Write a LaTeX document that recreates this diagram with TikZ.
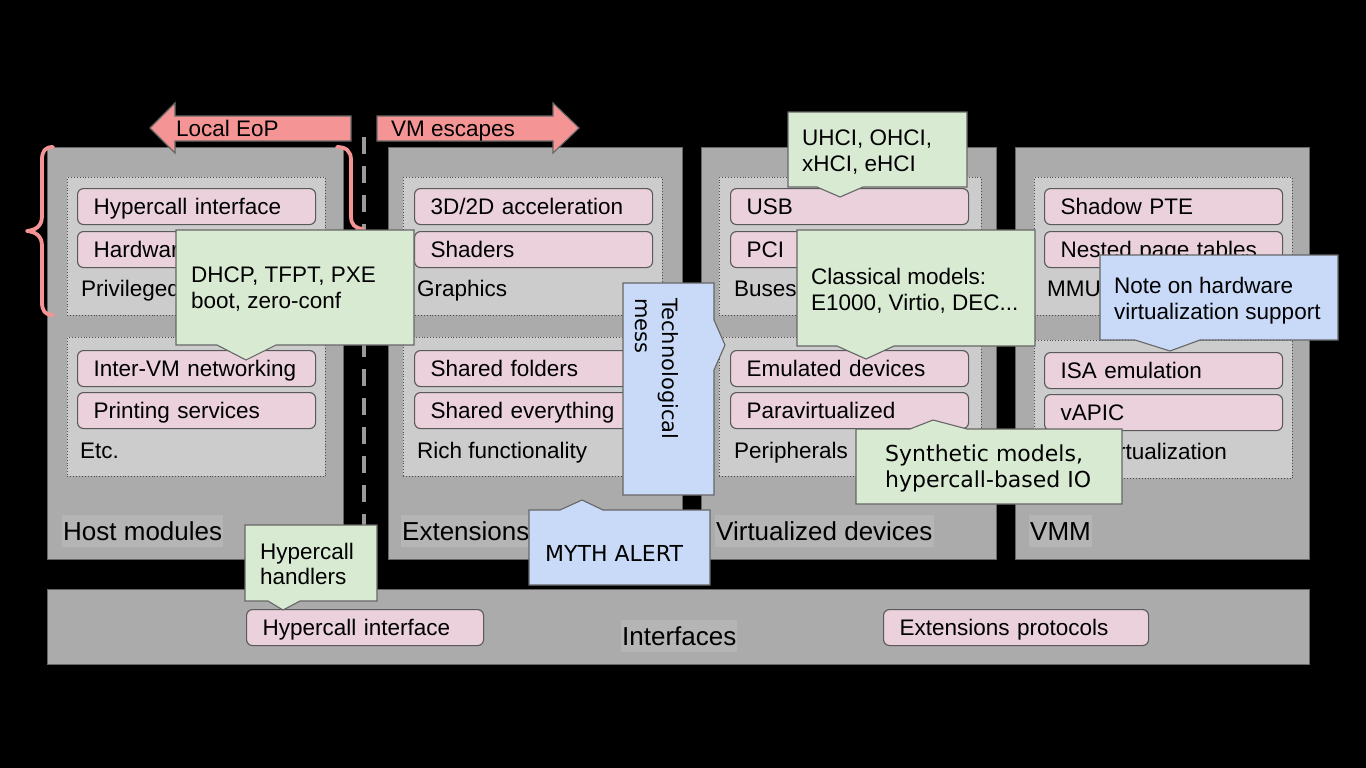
\documentclass[tikz,border=0pt]{standalone}
\usepackage{fontspec}
\setmainfont{Liberation Sans}
\newfontfamily\dvs{DejaVu Sans}
\definecolor{boxgray}{HTML}{ABABAB}
\definecolor{panelgray}{HTML}{CCCCCC}
\definecolor{labelgray}{HTML}{B5B5B5}
\definecolor{edgegray}{HTML}{666666}
\definecolor{pinkc}{HTML}{EAD1DC}
\definecolor{greenc}{HTML}{D9EAD3}
\definecolor{bluec}{HTML}{C9DAF8}
\definecolor{salmon}{HTML}{F59494}
\definecolor{dashgray}{HTML}{9A9A9A}
\begin{document}
\begin{tikzpicture}[x=1pt,y=-1pt,
  outerbox/.style={draw=edgegray, fill=boxgray, line width=1.2pt, inner sep=0pt, anchor=north west},
  panelbox/.style={draw=black!70, fill=panelgray, dotted, line width=0.9pt, inner sep=0pt, anchor=north west},
  item/.style={draw=black!65, fill=pinkc, rounded corners=6pt, line width=1.1pt, inner xsep=16pt, inner ysep=0pt,
    text height=19pt, text depth=3pt, minimum height=36pt, anchor=north west, align=left,
    text width=206pt, font=\fontsize{22.5}{27}\selectfont},
  plabel/.style={inner sep=0pt, anchor=base west, font=\fontsize{22.5}{27}\selectfont},
  biglabel/.style={fill=labelgray, inner xsep=1pt, inner ysep=1pt, text height=24pt, text depth=6pt,
    anchor=base west, font=\fontsize{26}{30}\selectfont},
  ctext/.style={inner sep=0pt, anchor=north west, align=left, font=\fontsize{22.5}{26}\selectfont},
  callg/.style={draw=edgegray, fill=greenc, line width=1.1pt, line join=miter},
  callb/.style={draw=edgegray, fill=bluec, line width=1.1pt, line join=miter},
  arrowshape/.style={draw=edgegray, fill=salmon, line width=1.1pt},
  bracestyle/.style={draw=salmon, line width=3.8pt, line cap=round, line join=round}
]
\fill[black] (0,0) rectangle (1366,768);
\useasboundingbox (0,0) rectangle (1366,768);

% outer columns
\node[outerbox, minimum width=296pt, minimum height=412pt] (host) at (47,147) {};
\node[outerbox, minimum width=294pt, minimum height=412pt] (ext) at (388,147) {};
\node[outerbox, minimum width=295pt, minimum height=412pt] (virt) at (701,147) {};
\node[outerbox, minimum width=294pt, minimum height=412pt] (vmm) at (1015,147) {};
\node[outerbox, minimum width=1262pt, minimum height=75pt] (ifc) at (47,589) {};

% inner panels
\node[panelbox, minimum width=258pt, minimum height=138pt] (hp1) at (67,177) {};
\node[panelbox, minimum width=258pt, minimum height=139pt] (hp2) at (67,337) {};
\node[panelbox, minimum width=259pt, minimum height=138pt] (ep1) at (403,177) {};
\node[panelbox, minimum width=259pt, minimum height=139pt] (ep2) at (403,337) {};
\node[panelbox, minimum width=262pt, minimum height=138pt] (vp1) at (719,177) {};
\node[panelbox, minimum width=262pt, minimum height=139pt] (vp2) at (719,337) {};
\node[panelbox, minimum width=258pt, minimum height=138pt] (mp1) at (1034,177) {};
\node[panelbox, minimum width=258pt, minimum height=138pt] (mp2) at (1034,340) {};

% items
\node[item] (h1) at (77,188) {Hypercall interface};
\node[item] (h2) at (77,231) {Hardware};
\node[item] (h3) at (77,350) {Inter-VM networking};
\node[item] (h4) at (77,392) {Printing services};
\node[item] (e1) at (414,188) {3D/2D acceleration};
\node[item] (e2) at (414,231) {Shaders};
\node[item] (e3) at (414,350) {Shared folders};
\node[item] (e4) at (414,392) {Shared everything};
\node[item] (v1) at (730,188) {USB};
\node[item] (v2) at (730,231) {PCI};
\node[item] (v3) at (730,350) {Emulated devices};
\node[item] (v4) at (730,392) {Paravirtualized};
\node[item] (m1) at (1044,188) {Shadow PTE};
\node[item] (m2) at (1044,231) {Nested page tables};
\node[item] (m3) at (1044,352) {ISA emulation};
\node[item] (m4) at (1044,394) {vAPIC};
\node[item, text width=205pt] (i1) at (246,609) {Hypercall interface};
\node[item, text width=233pt] (i2) at (883,609) {Extensions protocols};

% panel labels
\node[plabel] (lpriv) at (81,296) {Privileged};
\node[plabel] (letc) at (80,458) {Etc.};
\node[plabel] (lgfx) at (417,296) {Graphics};
\node[plabel] (lrich) at (417,458) {Rich functionality};
\node[plabel] (lbus) at (734,296) {Buses};
\node[plabel] (lper) at (734,458) {Peripherals};
\node[plabel] (lmmu) at (1047,296) {MMU};
\node[plabel] (lcpu) at (1048,459) {CPU virtualization};

% big labels
\node[biglabel] (lhost) at (62,540) {Host modules};
\node[biglabel] (lext) at (401,540) {Extensions};
\node[biglabel] (lvirt) at (715,540) {Virtualized devices};
\node[biglabel] (lvmm) at (1029,540) {VMM};
\node[biglabel] (lifc) at (621,645) {Interfaces};

% dashed separator
\coordinate (dtop) at (364,137);
\coordinate (dbot) at (364,588);
\draw[dashgray, line width=4pt, dash pattern=on 17pt off 12pt] (dtop) -- (dbot);

% arrows
\draw[arrowshape] (351,116) -- (175,116) -- (175,103) -- (150,128) -- (175,153) -- (175,141) -- (351,141) -- cycle;
\node[plabel] (leop) at (176,136) {Local EoP};
\draw[arrowshape] (377,116) -- (553,116) -- (553,103) -- (579,128) -- (553,153) -- (553,141) -- (377,141) -- cycle;
\node[plabel] (lvme) at (391,136) {VM escapes};

% braces
\draw[bracestyle] (53,147) .. controls (45,147) and (42,151) .. (42,160) -- (42,216)
  .. controls (42,226) and (36,230) .. (27,231) .. controls (36,232) and (42,236) .. (42,246)
  -- (42,302) .. controls (42,311) and (45,315) .. (53,315);
\draw[bracestyle] (337,147) .. controls (346,147) and (351,151) .. (351,160) -- (351,216)
  .. controls (351,225) and (355,228) .. (363,229) .. controls (355,230) and (351,234) .. (351,243)
  -- (351,302) .. controls (351,311) and (346,315) .. (337,315);

% callouts
\draw[callg] (176,230) -- (414,230) -- (414,345) -- (276,345) -- (246,360) -- (217,345) -- (176,345) -- cycle;
\node[ctext] (tdhcp) at (191,267) {DHCP, TFPT, PXE\\boot, zero-conf};

\draw[callg] (788,112) -- (967,112) -- (967,187) -- (863,187) -- (840,197) -- (817,187) -- (788,187) -- cycle;
\node[ctext] (tuhci) at (802,130) {UHCI, OHCI,\\xHCI, eHCI};

\draw[callg] (797,230) -- (1035,230) -- (1035,346) -- (894,346) -- (866,359) -- (837,346) -- (797,346) -- cycle;
\node[ctext] (tclass) at (811,268) {Classical models:\\E1000, Virtio, DEC...};

\draw[callb] (1100,255) -- (1338,255) -- (1338,340) -- (1200,340) -- (1170,351) -- (1135,340) -- (1100,340) -- cycle;
\node[ctext] (tnote) at (1114,277) {Note on hardware\\virtualization support};

\draw[callb] (623,283) -- (714,283) -- (714,320) -- (725,345) -- (714,370) -- (714,495) -- (623,495) -- cycle;
\node[inner sep=0pt, anchor=base west, rotate=-90, font=\dvs\fontsize{21}{27}\selectfont] (ttech1) at (662,298) {Technological};
\node[inner sep=0pt, anchor=base west, rotate=-90, font=\dvs\fontsize{21}{27}\selectfont] (ttech2) at (635,298) {mess};

\draw[callb] (529,510) -- (560,510) -- (582,500) -- (603,510) -- (710,510) -- (710,585) -- (529,585) -- cycle;
\node[inner sep=0pt, anchor=base west, font=\dvs\fontsize{22}{26}\selectfont] (tmyth) at (545,561) {MYTH ALERT};

\draw[callg] (856,429) -- (910,429) -- (933,420) -- (967,429) -- (1122,429) -- (1122,504) -- (856,504) -- cycle;
\node[inner sep=0pt, anchor=north west, align=left, font=\dvs\fontsize{22}{26}\selectfont] (tsynth) at (885,445) {Synthetic models,\\hypercall-based IO};

\draw[callg] (245,525) -- (377,525) -- (377,601) -- (300,601) -- (283,610) -- (268,601) -- (245,601) -- cycle;
\node[ctext, font=\fontsize{22.5}{25}\selectfont] (thand) at (260,543) {Hypercall\\handlers};
\end{tikzpicture}
\end{document}
